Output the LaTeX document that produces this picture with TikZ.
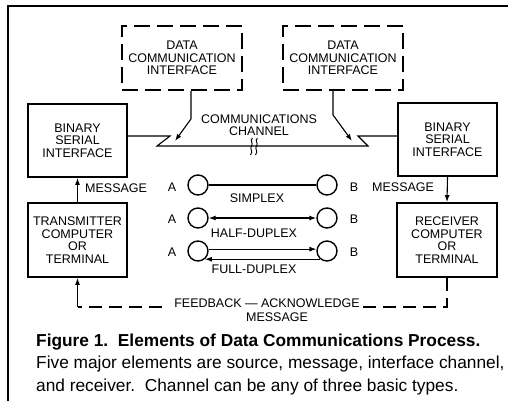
\documentclass[tikz,border=0pt]{standalone}
\usepackage{fontspec}
\setmainfont{Liberation Sans}
\usetikzlibrary{arrows.meta}

\tikzset{
  lbl/.style={font=\fontsize{12.5}{12.5}\selectfont, align=center, inner sep=0pt},
  blockbox/.style={draw, line width=1.8pt, inner sep=0pt, minimum width=99pt,
    minimum height=73pt, font=\fontsize{12.5}{12.5}\selectfont, align=center},
  ifbox/.style={draw, line width=1.8pt, dash pattern=on 16pt off 7pt, inner sep=0pt,
    minimum width=120pt, minimum height=64pt, font=\fontsize{12.5}{12.5}\selectfont, align=center},
  station/.style={draw, circle, line width=1.4pt, minimum size=20pt, inner sep=0pt},
  wire/.style={line width=1.1pt},
  tip/.style={-{Latex[length=7pt,width=5pt]}},
  fbline/.style={line width=1.1pt, dash pattern=on 13pt off 7pt},
  captxt/.style={anchor=base west, inner sep=0pt, font=\fontsize{17.3}{17.3}\selectfont},
}

\begin{document}
\begin{tikzpicture}[x=1pt, y=-1pt]
\useasboundingbox (0,0) rectangle (508,401);

% page frame
\draw[line width=1.3pt] (8,401) -- (8,6) -- (508,6);

% interface boxes
\node[ifbox] (dciL) at (182,58) {DATA\\COMMUNICATION\\INTERFACE};
\node[ifbox] (dciR) at (343,58) {DATA\\COMMUNICATION\\INTERFACE};

% serial interfaces and terminals
\node[blockbox] (bsiL) at (77.5,140.5) {BINARY\\SERIAL\\INTERFACE};
\node[blockbox] (bsiR) at (447.5,139.5) {BINARY\\SERIAL\\INTERFACE};
\node[blockbox, minimum height=74pt] (tx) at (77.5,240) {TRANSMITTER\\COMPUTER\\OR\\TERMINAL};
\node[blockbox, minimum height=74pt, minimum width=100pt] (rx) at (447,240) {RECEIVER\\COMPUTER\\OR\\TERMINAL};

% channel
\coordinate (chy) at (0,136);
\coordinate (zl1) at (170,136);
\coordinate (zl2) at (157,146);
\coordinate (zr2) at (368,146);
\coordinate (zr1) at (358,136);
\draw[wire] (bsiL.east |- chy) -- (zl1) -- (zl2) -- (zr2) -- (zr1) -- (bsiR.west |- chy);
\node[lbl] (chan) at (259,125) {COMMUNICATIONS\\CHANNEL};

% break mark on the channel
\foreach \bx in {251.5,256.5}
  \draw[line width=0.9pt] (\bx+1,138) .. controls (\bx-2.5,141) and (\bx+2.5,143) .. (\bx,146)
    .. controls (\bx-2.5,149) and (\bx+2.5,151) .. (\bx-1,155);

% interface arrows onto the channel
\coordinate (hL) at (175,141);
\coordinate (hR) at (352,141);
\draw[wire, tip] ([xshift=9pt]dciL.south) -- ++(0,28) -- (hL);
\draw[wire, tip] ([xshift=-10pt]dciR.south) -- ++(0,24) -- (hR);

% message flow
\draw[wire, tip] (tx.north) -- (bsiL.south);
\draw[wire, tip] (bsiR.south) -- (rx.north);
\node[lbl, anchor=west] (msgL) at (85,188) {MESSAGE};
\node[lbl, anchor=west] (msgR) at (372,187) {MESSAGE};

% channel types
\node[station] (a1) at (198,185) {};
\node[station] (b1) at (327,185) {};
\node[station] (a2) at (198,218) {};
\node[station] (b2) at (327,218) {};
\node[station] (a3) at (198,251) {};
\node[station] (b3) at (327,251) {};
\foreach \r/\yy in {1/187,2/219,3/252}{
  \node[lbl] (la\r) at (172,\yy) {A};
  \node[lbl] (lb\r) at (354,\yy) {B};
}
\draw[wire] (a1) -- (b1);
\draw[wire, {Latex[length=7pt,width=5pt]}-{Latex[length=7pt,width=5pt]}] (a2) -- (b2);
\draw[wire, tip] (a3.10) -- (b3.170);
\draw[wire, tip] (b3.230) -- (a3.-50);
\node[lbl] (simplex) at (257,198) {SIMPLEX};
\node[lbl] (half) at (254,233) {HALF-DUPLEX};
\node[lbl] (full) at (254,269) {FULL-DUPLEX};

% feedback path
\node[lbl] (fb) at (267,303) {FEEDBACK — ACKNOWLEDGE};
\node[lbl] (fbmsg) at (277,317) {MESSAGE};
\coordinate (fbR) at (rx.south |- 0,307);
\coordinate (fbL) at (tx.south |- 0,307);
\draw[fbline] (rx.south) -- (fbR) -- ([xshift=3pt]fb.east |- fbR);
\draw[fbline] ([xshift=-12pt]fb.west |- fbL) -- (fbL);
\draw[wire, tip] (fbL) -- (tx.south);

% caption
\node[captxt, font=\fontsize{17.3}{17.3}\selectfont\bfseries] (cap1) at (36,346)
  {Figure 1.\ \ Elements of Data Communications Process.};
\node[captxt] (cap2) at (36,368)
  {Five major elements are source, message, interface channel,};
\node[captxt] (cap3) at (36,391)
  {and receiver.\ \ Channel can be any of three basic types.};
\end{tikzpicture}
\end{document}
